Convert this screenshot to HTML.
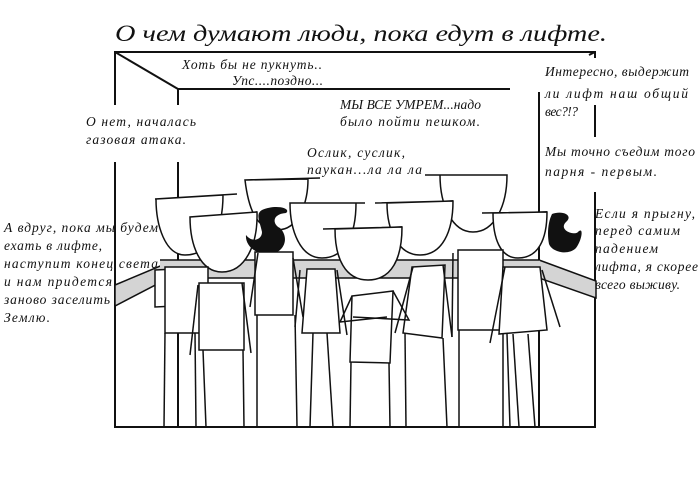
<!DOCTYPE html>
<html><head><meta charset="utf-8"><style>
html,body{margin:0;padding:0;background:#fff;}
svg{display:block;}
text{font-family:"Liberation Serif","DejaVu Serif",serif;font-style:italic;fill:#111;}
</style></head><body>
<svg width="700" height="499" viewBox="0 0 700 499" xmlns="http://www.w3.org/2000/svg">
<rect width="700" height="499" fill="#fff"/>
<text x="115" y="41" font-size="23" textLength="492" lengthAdjust="spacingAndGlyphs">О чем думают люди, пока едут в лифте.</text>
<g stroke="#111" stroke-width="2" fill="none">
<polyline points="115,105 115,52 595,52 595,58"/>
<line x1="589" y1="55" x2="595" y2="52"/>
<line x1="115" y1="162" x2="115" y2="428"/>
<line x1="115" y1="52" x2="178" y2="89"/>
<line x1="178" y1="89" x2="510" y2="89"/>
<line x1="178" y1="89" x2="178" y2="105"/>
<line x1="178" y1="162" x2="178" y2="427"/>
<line x1="539" y1="92" x2="539" y2="427"/>
<line x1="595" y1="105" x2="595" y2="137"/>
<line x1="595" y1="192" x2="595" y2="428"/>
<line x1="115" y1="427" x2="596" y2="427"/>
</g>
<g stroke="#111" stroke-width="1.5" fill="#d4d4d4">
<polygon points="115,285 165,264 165,280 115,306"/>
<polygon points="539,260 596,281 596,298 539,278"/>
<rect x="160" y="260" width="380" height="18" stroke="none"/>
<line x1="160" y1="260" x2="540" y2="260"/>
<line x1="160" y1="278" x2="540" y2="278"/>
</g>
<g stroke="#111" stroke-width="1.5" fill="#fff">
<path d="M245,180 L320,178 M308,179 C308,200 300,230 277,230 C255,230 248,205 245,180 Z"/>
<path d="M425,175 L507,175 M507,175 C507,205 495,232 473,232 C452,232 440,205 440,175 Z"/>
<path d="M155,199 L237,194 M223,195 C223,230 210,255 185,255 C165,255 156,225 156,199 Z"/>
<path d="M290,203 L365,203 M356,203 C356,235 345,258 322,258 C300,258 290,230 290,203 Z"/>
<path d="M375,203 L453,201 M453,201 C453,232 442,255 420,255 C398,255 387,230 387,203 Z"/>
<path d="M190,217 L257,212 M257,212 C258,245 245,272 222,272 C200,272 190,245 190,217 Z"/>
<path d="M482,213 L547,212 M547,212 C547,240 538,258 518,258 C500,258 493,238 493,213 Z"/>
<path d="M323,229 L402,227 M402,227 C402,258 392,280 368,280 C345,280 335,258 335,229 Z"/>
</g>
<g fill="#111">
<path d="M262,210 C275,204 292,208 286,213 C272,214 272,224 280,228 C290,238 284,253 270,254 C255,255 245,245 246,235 C252,243 262,240 262,232 C260,222 255,214 262,210 Z"/>
<path d="M552,214 C562,210 574,215 566,222 C558,230 574,236 578,232 C584,226 582,240 576,248 C568,256 552,252 549,244 C547,234 548,222 552,214 Z"/>
</g>
<g stroke="#111" stroke-width="1.5" fill="#fff">
<line x1="165" y1="333" x2="164" y2="427"/><line x1="178" y1="333" x2="178" y2="427"/><line x1="195" y1="333" x2="196" y2="427"/>
<line x1="203" y1="350" x2="206" y2="427"/><line x1="243" y1="350" x2="244" y2="427"/>
<line x1="257" y1="315" x2="257" y2="427"/><line x1="295" y1="315" x2="297" y2="427"/>
<line x1="313" y1="333" x2="310" y2="427"/><line x1="327" y1="333" x2="333" y2="427"/>
<line x1="351" y1="362" x2="350" y2="427"/><line x1="389" y1="363" x2="390" y2="427"/>
<line x1="405" y1="333" x2="406" y2="427"/><line x1="443" y1="338" x2="447" y2="427"/>
<line x1="459" y1="330" x2="459" y2="427"/><line x1="503" y1="330" x2="503" y2="427"/>
<line x1="507" y1="334" x2="510" y2="427"/><line x1="513" y1="334" x2="519" y2="427"/><line x1="528" y1="334" x2="535" y2="427"/>
<polygon points="155,270 196,268 196,305 155,307"/>
<rect x="165" y="267" width="43" height="66"/>
<rect x="199" y="283" width="45" height="67"/>
<rect x="255" y="252" width="38" height="63"/>
<polygon points="307,269 335,269 340,333 302,333"/>
<polygon points="352,296 393,291 390,363 350,362"/>
<polygon points="412,267 445,265 442,338 403,333"/>
<rect x="458" y="250" width="45" height="80"/>
<polygon points="503,267 540,267 547,330 499,334"/>
<g fill="none">
<line x1="198" y1="285" x2="190" y2="355"/><line x1="242" y1="283" x2="251" y2="353"/>
<line x1="258" y1="253" x2="250" y2="307"/><line x1="293" y1="258" x2="303" y2="317"/>
<line x1="300" y1="270" x2="295" y2="327"/><line x1="337" y1="270" x2="347" y2="335"/>
<polyline points="352,296 340,322 387,317"/><polyline points="393,291 409,320 353,317"/>
<line x1="413" y1="267" x2="395" y2="333"/><line x1="443" y1="265" x2="452" y2="337"/>
<line x1="453" y1="253" x2="452" y2="337"/>
<line x1="505" y1="267" x2="490" y2="343"/><line x1="542" y1="270" x2="560" y2="327"/>
</g>
</g>
<g font-size="13.5" lengthAdjust="spacingAndGlyphs">
<text x="182" y="69" textLength="140">Хоть бы не пукнуть..</text>
<text x="232" y="85" textLength="91">Упс....поздно...</text>
<text x="340" y="109" textLength="141">МЫ ВСЕ УМРЕМ...надо</text>
<text x="340" y="126" textLength="140">было пойти пешком.</text>
<text x="86" y="126" textLength="110">О нет, началась</text>
<text x="86" y="144" textLength="100">газовая атака.</text>
<text x="307" y="157" textLength="98">Ослик, суслик,</text>
<text x="307" y="174" textLength="115">паукан...ла ла ла</text>
<text x="545" y="76" textLength="144">Интересно, выдержит</text>
<text x="545" y="98" textLength="143">ли лифт наш общий</text>
<text x="545" y="116" textLength="33">вес?!?</text>
<text x="545" y="156" textLength="150">Мы точно съедим того</text>
<text x="545" y="176" textLength="112">парня - первым.</text>
<text x="595" y="218" textLength="100">Если я прыгну,</text>
<text x="595" y="235" textLength="85">перед самим</text>
<text x="595" y="253" textLength="63">падением</text>
<text x="595" y="271" textLength="103">лифта, я скорее</text>
<text x="595" y="289" textLength="85">всего выживу.</text>
<text x="4" y="232" textLength="154">А вдруг, пока мы будем</text>
<text x="4" y="250" textLength="98">ехать в лифте,</text>
<text x="4" y="268" textLength="154">наступит конец света</text>
<text x="4" y="286" textLength="108">и нам придется</text>
<text x="4" y="304" textLength="106">заново заселить</text>
<text x="4" y="322" textLength="46">Землю.</text>
</g>
</svg>
</body></html>
